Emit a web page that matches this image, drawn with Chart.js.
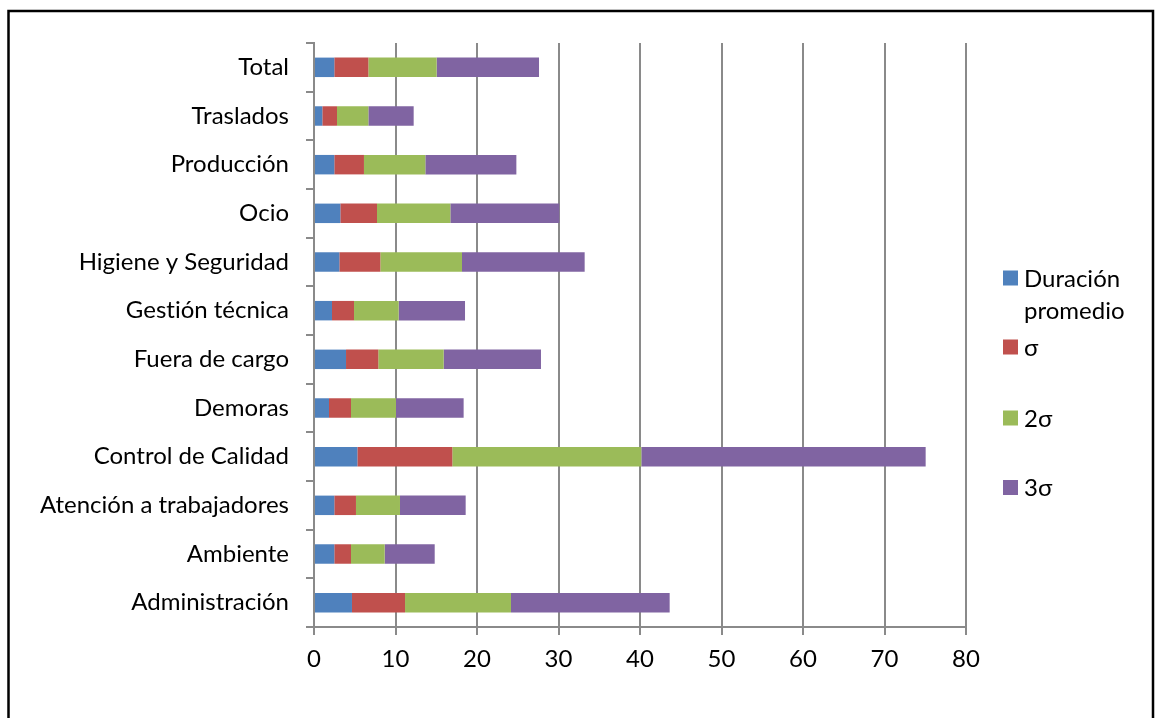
<!DOCTYPE html>
<html>
<head>
<meta charset="utf-8">
<script src="https://cdn.jsdelivr.net/npm/chart.js@4.4.1/dist/chart.umd.min.js"></script>
<style>
  html, body { margin: 0; padding: 0; background: #fff; }
  #wrap { position: relative; width: 1155px; height: 718px; }
</style>
</head>
<body>
<div id="wrap"><canvas id="c" width="1155" height="718"></canvas></div>
<script>
// Categories, listed top to bottom
const categories = [
  'Total', 'Traslados', 'Producción', 'Ocio', 'Higiene y Seguridad',
  'Gestión técnica', 'Fuera de cargo', 'Demoras', 'Control de Calidad',
  'Atención a trabajadores', 'Ambiente', 'Administración'
];

// Stacked segments: mean duration, then σ, 2σ, 3σ added on top
const duracionPromedio = [2.49, 1.02, 2.49, 3.23, 3.11, 2.21, 3.93, 1.84, 5.32, 2.49, 2.49, 4.66];
const sigma            = [4.18, 1.80, 3.64, 4.50, 5.03, 2.70, 3.96, 2.70, 11.65, 2.66, 2.05, 6.51];
const dosSigma         = [8.38, 3.85, 7.53, 9.00, 10.02, 5.48, 8.02, 5.52, 23.19, 5.40, 4.13, 13.00];
const tresSigma        = [12.56, 5.56, 11.17, 13.37, 15.05, 8.14, 11.94, 8.30, 34.89, 8.06, 6.14, 19.47];

const seriesLabels = ['Duración promedio', 'σ', '2σ', '3σ'];
const xTicks = [0, 10, 20, 30, 40, 50, 60, 70, 80];

const colors = ['#4F81BD', '#C0504D', '#9BBB59', '#8064A2'];
const FONT = 'Lato, "Open Sans", sans-serif';
const FONT_SIZE = 24;

const seriesData = [duracionPromedio, sigma, dosSigma, tresSigma];
const datasets = seriesLabels.map((label, i) => ({
  label,
  data: seriesData[i],
  backgroundColor: colors[i],
  borderWidth: 0,
  barPercentage: 0.4,
  categoryPercentage: 1
}));

// Plain glyphs (no "ti" ligature) for every label drawn on the canvas
const textPlugin = {
  id: 'plainText',
  beforeDraw(chart) {
    if ('textRendering' in chart.ctx) chart.ctx.textRendering = 'optimizeSpeed';
  }
};

// Frame around the figure and the side legend
const framePlugin = {
  id: 'frameAndLegend',
  afterDraw(chart) {
    const ctx = chart.ctx;
    ctx.save();
    ctx.strokeStyle = '#000';
    ctx.lineWidth = 2.5;
    ctx.beginPath();
    ctx.moveTo(8.5, 718);
    ctx.lineTo(8.5, 11);
    ctx.lineTo(1153, 11);
    ctx.lineTo(1153, 718);
    ctx.stroke();

    // legend
    const items = [
      { lines: ['Duración', 'promedio'], y: 278 },
      { lines: ['σ'], y: 347 },
      { lines: ['2σ'], y: 418 },
      { lines: ['3σ'], y: 487.5 }
    ];
    ctx.font = FONT_SIZE + 'px ' + FONT;
    ctx.textBaseline = 'middle';
    ctx.textAlign = 'left';
    items.forEach((it, i) => {
      const ds = chart.data.datasets[i];
      ctx.fillStyle = ds.backgroundColor;
      ctx.fillRect(1003, it.y - 7.5, 15, 15);
      ctx.fillStyle = '#000';
      it.lines.forEach((ln, k) => {
        ctx.fillText(ln, 1024, it.y + 1 + k * 32);
      });
    });
    ctx.restore();
  }
};

new Chart(document.getElementById('c'), {
  type: 'bar',
  data: { labels: categories, datasets },
  options: {
    indexAxis: 'y',
    responsive: false,
    animation: false,
    layout: { padding: { top: 43, right: 189, left: 0, bottom: 0 } },
    plugins: {
      legend: { display: false },
      tooltip: { enabled: false }
    },
    scales: {
      x: {
        stacked: true,
        min: 0,
        max: 80,
        afterBuildTicks(scale) {
          scale.ticks = xTicks.map(v => ({ value: v }));
        },
        afterFit(scale) { scale.height = 91; },
        grid: {
          color: '#8a8a8a',
          lineWidth: 2,
          drawTicks: true,
          tickLength: 8,
          tickColor: '#8a8a8a'
        },
        border: { display: true, color: '#8a8a8a', width: 2 },
        ticks: {
          color: '#000',
          padding: 10,
          font: { family: FONT, size: FONT_SIZE }
        }
      },
      y: {
        stacked: true,
        afterFit(scale) { scale.width = 314; },
        grid: {
          offset: true,
          drawOnChartArea: false,
          drawTicks: true,
          tickLength: 8,
          color: '#8a8a8a',
          lineWidth: 2
        },
        border: { display: true, color: '#8a8a8a', width: 2 },
        ticks: {
          color: '#000',
          padding: 17,
          font: { family: FONT, size: FONT_SIZE }
        }
      }
    }
  },
  plugins: [textPlugin, framePlugin]
});
</script>
</body>
</html>
